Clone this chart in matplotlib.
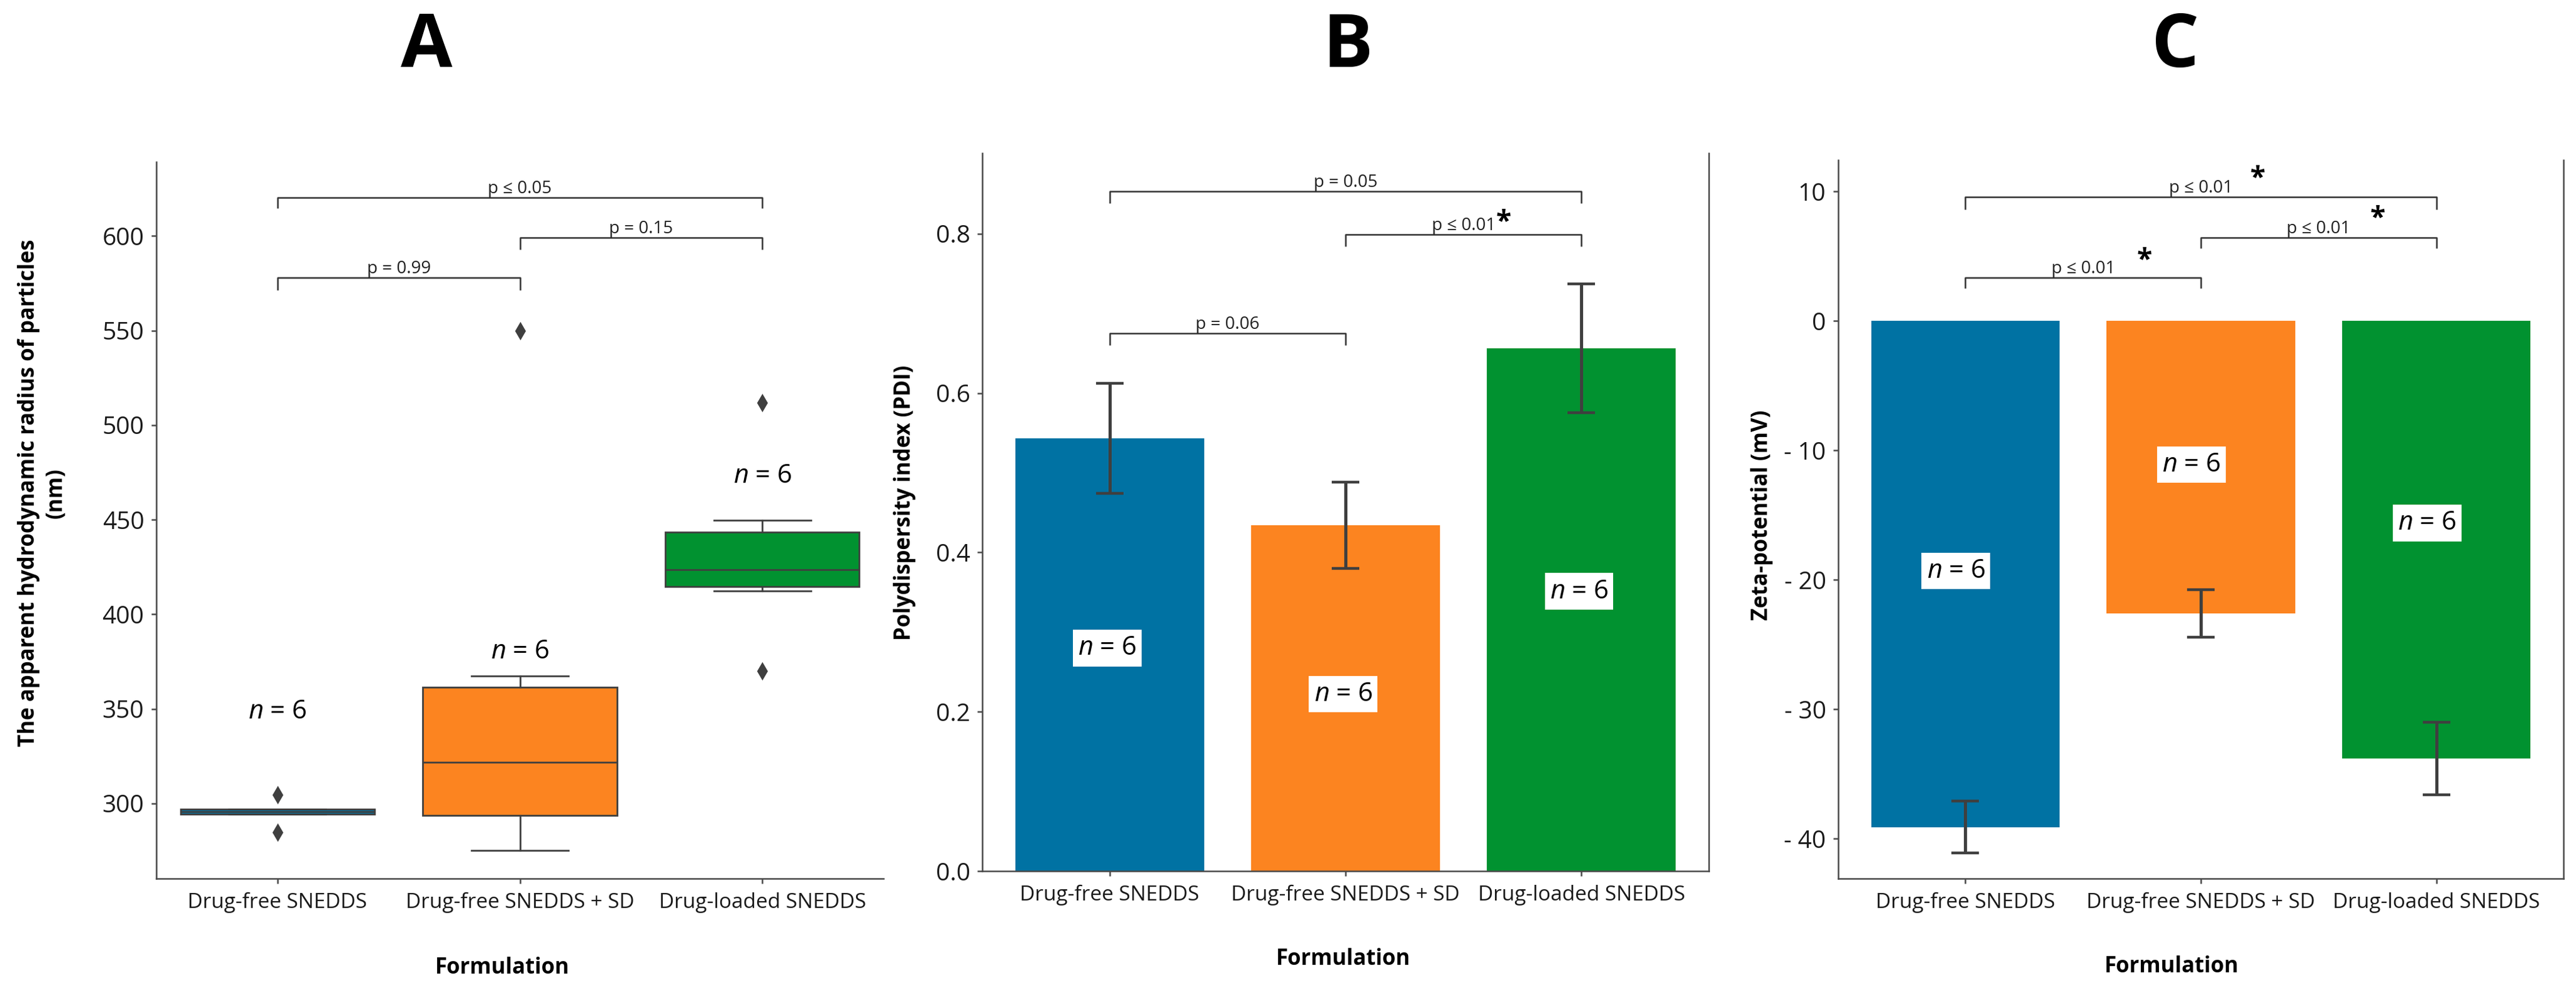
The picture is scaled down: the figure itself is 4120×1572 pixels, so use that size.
import matplotlib
matplotlib.use("Agg")
import matplotlib.pyplot as plt

plt.rcParams['font.family'] = ['Open Sans', 'DejaVu Sans']
plt.rcParams['mathtext.fontset'] = 'custom'
plt.rcParams['mathtext.it'] = 'Open Sans:italic'
plt.rcParams['mathtext.rm'] = 'Open Sans'

# ---------------- data ----------------
categories = ["Drug-free SNEDDS", "Drug-free SNEDDS + SD", "Drug-loaded SNEDDS"]
colors = ["#0072A3", "#FC8420", "#019230"]

# Panel A: box plot statistics (nm)
box_q1 = [294.4, 293.7, 414.6]
box_med = [295.6, 321.7, 423.7]
box_q3 = [297.0, 361.3, 443.5]
box_whislo = [294.2, 275.2, 412.4]
box_whishi = [297.0, 367.3, 449.8]
box_fliers = [[304.7, 284.6], [550.0], [512.0, 370.0]]

# Panel B: PDI
pdi_mean = [0.543, 0.434, 0.656]
pdi_sd = [0.069, 0.054, 0.081]

# Panel C: zeta potential (mV)
zeta_mean = [-39.1, -22.6, -33.8]
zeta_sd = [2.0, 1.85, 2.8]

n_labels = ["$n$ = 6", "$n$ = 6", "$n$ = 6"]
n_pos_A = [348.7, 380.2, 473.3]
n_pos_B = [0.28, 0.222, 0.351]
n_pos_C = [-19.3, -11.1, -15.6]

# brackets: (i, j, y, drop, label)
brackets_A = [(0, 2, 620.1, 5.6, "p ≤ 0.05"), (1, 2, 599.0, 6.2, "p = 0.15"), (0, 1, 578.0, 6.6, "p = 0.99")]
brackets_B = [(0, 2, 0.853, 0.015, "p = 0.05"), (1, 2, 0.799, 0.015, "p ≤ 0.01"), (0, 1, 0.6746, 0.0146, "p = 0.06")]
brackets_C = [(0, 2, 9.59, 0.97, "p ≤ 0.01"), (1, 2, 6.46, 0.83, "p ≤ 0.01"), (0, 1, 3.36, 0.83, "p ≤ 0.01")]
stars_B = [(1.67, 0.814)]
stars_C = [(1.24, 11.0), (1.75, 7.9), (0.76, 4.7)]

zeta_ticks = [10, 0, -10, -20, -30, -40]
zeta_ticklabels = ["10", "0", "- 10", "- 20", "- 30", "- 40"]

# ---------------- figure ----------------
W, H = 4120, 1572
fig = plt.figure(figsize=(W / 200, H / 200), dpi=200)

def px_axes(l, r, t, b):
    return fig.add_axes([l / W, 1 - b / H, (r - l) / W, (b - t) / H])

axA = px_axes(250, 1413, 259, 1405)
axB = px_axes(1571, 2733, 245, 1393)
axC = px_axes(2940, 4100, 256, 1405)

spine_c = "#4a4a4a"
dark = "#3f3f3f"
x = list(range(len(categories)))

def style(ax, right=False):
    for s in ["top", "right", "left", "bottom"]:
        ax.spines[s].set_visible(False)
    for s in ["left", "bottom"] + (["right"] if right else []):
        ax.spines[s].set_visible(True)
        ax.spines[s].set_color(spine_c)
        ax.spines[s].set_linewidth(0.9)
    ax.tick_params(axis='both', colors=spine_c, length=3, width=0.9, labelcolor="#1a1a1a")
    ax.tick_params(axis='y', labelsize=14, pad=4)
    ax.tick_params(axis='x', labelsize=12, pad=5)
    ax.set_xticks(x)
    ax.set_xticklabels(categories)

def draw_brackets(ax, brs, fs=10):
    for i, j, y, h, lab in brs:
        ax.plot([i, i, j, j], [y - h, y, y, y - h], color="#333333", lw=0.9, solid_capstyle='butt')
        ax.text((i + j) / 2, y, lab, ha='center', va='bottom', fontsize=fs, color="#222222")

def ylabel_at(ax, text, fx, fy, **kw):
    ax.set_ylabel(text, fontsize=12.5, fontweight='bold', **kw)
    ax.yaxis.set_label_coords(fx, fy)
    ax.yaxis.label.set_verticalalignment('center')

# ---- Panel A ----
stats = []
for k in range(3):
    stats.append(dict(med=box_med[k], q1=box_q1[k], q3=box_q3[k],
                      whislo=box_whislo[k], whishi=box_whishi[k], fliers=box_fliers[k]))
bp = axA.bxp(stats, positions=x, widths=0.8, patch_artist=True, showfliers=True,
             boxprops=dict(edgecolor=dark, linewidth=1.0),
             medianprops=dict(color=dark, linewidth=1.0),
             whiskerprops=dict(color=dark, linewidth=1.0),
             capprops=dict(color=dark, linewidth=1.0),
             flierprops=dict(marker='d', markerfacecolor=dark, markeredgecolor=dark, markersize=6))
for patch, c in zip(bp['boxes'], colors):
    patch.set_facecolor(c)
axA.set_xlim(-0.5, 2.5)
axA.set_ylim(260.3, 639.1)
style(axA)
axA.set_yticks([300, 350, 400, 450, 500, 550, 600])
axA.set_xticks(x)
axA.set_xticklabels(categories)
for k in range(3):
    axA.text(x[k], n_pos_A[k], n_labels[k], ha='center', va='center', fontsize=15)
draw_brackets(axA, brackets_A)
ylabel_at(axA, "The apparent hydrodynamic radius of particles\n(nm)", -0.1565, 0.538,
          linespacing=1.3)

# ---- Panel B ----
axB.bar(x, pdi_mean, width=0.8, color=colors)
axB.errorbar(x, pdi_mean, yerr=pdi_sd, fmt='none', ecolor=dark, elinewidth=1.8,
             capsize=8, capthick=1.6)
axB.set_xlim(-0.54, 2.54)
axB.set_ylim(0, 0.901)
style(axB, right=True)
axB.set_yticks([0.0, 0.2, 0.4, 0.6, 0.8])
axB.set_yticklabels(["0.0", "0.2", "0.4", "0.6", "0.8"])
for k in range(3):
    axB.text(x[k] - 0.01, n_pos_B[k], n_labels[k], ha='center', va='center', fontsize=15,
             bbox=dict(facecolor='white', edgecolor='none', pad=3))
draw_brackets(axB, brackets_B)
for sx, sy in stars_B:
    axB.text(sx, sy, "*", ha='center', va='center', fontsize=16, fontweight='bold')
ylabel_at(axB, "Polydispersity index (PDI)", -0.1067, 0.513)

# ---- Panel C ----
axC.bar(x, zeta_mean, width=0.8, color=colors)
axC.errorbar(x, zeta_mean, yerr=zeta_sd, fmt='none', ecolor=dark, elinewidth=1.8,
             capsize=8, capthick=1.6)
axC.set_xlim(-0.54, 2.54)
axC.set_ylim(-43.08, 12.44)
style(axC, right=True)
axC.set_yticks(zeta_ticks)
axC.set_yticklabels(zeta_ticklabels)
for k in range(3):
    axC.text(x[k] - 0.04, n_pos_C[k], n_labels[k], ha='center', va='center', fontsize=15,
             bbox=dict(facecolor='white', edgecolor='none', pad=3))
draw_brackets(axC, brackets_C)
for sx, sy in stars_C:
    axC.text(sx, sy, "*", ha='center', va='center', fontsize=16, fontweight='bold')
ylabel_at(axC, "Zeta-potential (mV)", -0.105, 0.506)

# x labels ("Formulation") at measured baselines
for ax, fx, base, top, bot in [(axA, 0.4755, 1557, 259, 1405),
                               (axB, 0.4966, 1543, 245, 1393),
                               (axC, 0.4595, 1555, 256, 1405)]:
    yfrac = (bot - base) / (bot - top)
    ax.text(fx, yfrac, "Formulation", transform=ax.transAxes, ha='center', va='baseline',
            fontsize=12.5, fontweight='bold')

# panel titles
for lab, cx in [("A", 682), ("B", 2155), ("C", 3479)]:
    fig.text(cx / W, 1 - 107 / H, lab, ha='center', va='baseline', fontsize=43, fontweight='bold')

fig.savefig("out.png", dpi=200)
